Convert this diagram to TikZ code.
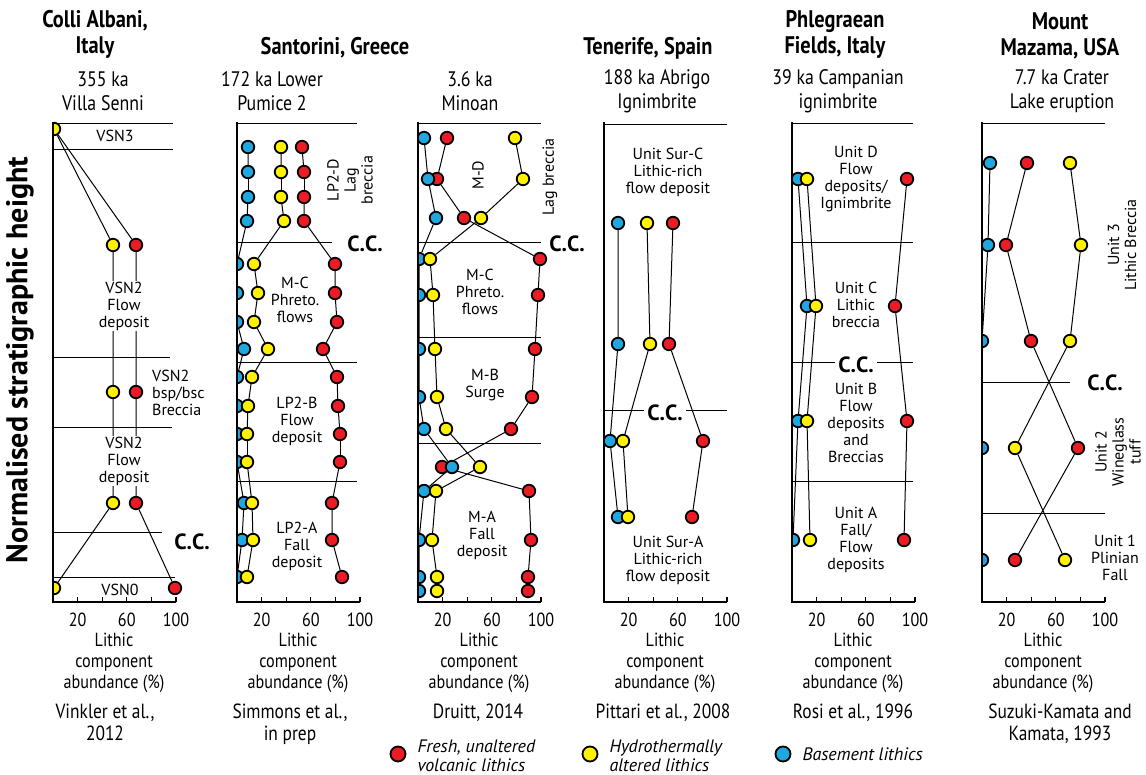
\documentclass[tikz,border=0pt]{standalone}
\usepackage{fontspec}
\setmainfont{PT Sans}
\newfontfamily\condfont[FakeStretch=0.85]{PT Sans}
\usetikzlibrary{backgrounds}
\definecolor{freshred}{HTML}{ED1C24}
\definecolor{altyellow}{HTML}{FFF200}
\definecolor{basemblue}{HTML}{1FA8E0}

\begin{document}
\begin{tikzpicture}[x=1pt, y=-1pt,
    smp/.style={circle, draw, line width=1.8pt, minimum size=12.5pt, inner sep=0pt},
    frsh/.style={smp, fill=freshred},
    hydro/.style={smp, fill=altyellow},
    bsmt/.style={smp, fill=basemblue},
    unit/.style={font=\fontsize{16}{17}\selectfont, align=center, inner sep=1pt},
    cc/.style={font=\bfseries\fontsize{22}{24}\selectfont, inner sep=1pt},
    ttl/.style={font=\condfont\bfseries\fontsize{24}{26}\selectfont, align=center},
    sub/.style={font=\condfont\fontsize{21}{24}\selectfont, align=center},
    axlab/.style={font=\condfont\fontsize{19}{21}\selectfont, align=center},
    src/.style={font=\condfont\fontsize{20.5}{22}\selectfont, align=center, anchor=north},
    legtxt/.style={font=\itshape\fontsize{18}{19}\selectfont, align=left, anchor=west},
    bed/.style={line width=0.9pt},
    trend/.style={line width=1pt},
    axln/.style={line width=2.6pt}]

    \useasboundingbox (0,0) rectangle (1146,775);

    % ===== vertical label =====
    \node[font=\bfseries\fontsize{30}{32}\selectfont, rotate=90] (ylab) at (20,360) {Normalised stratigraphic height};

    % ===== Colli Albani =====
    \node[ttl] (t1) at (95,34) {Colli Albani,\\Italy};
    \node[sub] (s1) at (103,91) {355 ka\\Villa Senni};
    \foreach \y/\e in {123/173,149/173,357/170,427/172,532/162,577/175}
        \draw[bed] (53,\y) -- (\e,\y);
    \begin{scope}
        \clip (53,110) rectangle (200,610);
        \node[hydro] (ca) at (54,129) {};
        \node[hydro] (cyb) at (113,245) {};
        \node[frsh]  (crb) at (136,245) {};
        \node[hydro] (cyc) at (113,392) {};
        \node[frsh]  (crc) at (136,392) {};
        \node[hydro] (cyd) at (113,503) {};
        \node[frsh]  (crd) at (136,503) {};
        \node[hydro] (cye) at (54,588) {};
        \node[frsh]  (cre) at (175,588) {};
    \end{scope}
    \begin{scope}[on background layer]
        \draw[trend] (ca) -- (cyb) -- (cyc) -- (cyd) -- (cye);
        \draw[trend] (ca) -- (crb) -- (crc) -- (crd) -- (cre);
    \end{scope}
    \node[unit] (u13) at (115,136) {VSN3};
    \node[unit, fill=white] (u12a) at (124,306) {VSN2\\Flow\\deposit};
    \node[unit, align=left, anchor=west] (u12b) at (151,393) {VSN2\\bsp/bsc\\Breccia};
    \node[unit, fill=white] (u12c) at (124,461) {VSN2\\Flow\\deposit};
    \node[cc] (cc1) at (192,542) {C.C.};
    \node[unit] (u10) at (120,590) {VSN0};

    % ===== Santorini, Lower Pumice 2 =====
    \node[ttl] (t2) at (335,48) {Santorini, Greece};
    \node[sub] (s2) at (272,91) {172 ka Lower\\Pumice 2};
    \foreach \y/\e in {123/357,242/332,362/357,481/357}
        \draw[bed] (237,\y) -- (\e,\y);
    \begin{scope}
        \clip (237,110) rectangle (400,610);
        \foreach \y/\b/\h/\f [count=\i] in {147/248/281/302, 172/248/281/304,
            197/248/281/304, 221/247/284/304, 264/237/254/335, 293/237/258/335,
            322/237/254/337, 349/244/268/323, 377/237/252/337, 406/237/248/338,
            434/237/247/340, 462/237/247/340, 503/244/252/332, 540/242/253/332,
            577/237/247/342}{
            \node[bsmt]  (lb\i) at (\b,\y) {};
            \node[frsh]  (lr\i) at (\f,\y) {};
            \node[hydro] (ly\i) at (\h,\y) {};
        }
    \end{scope}
    \begin{scope}[on background layer]
        \foreach \i [remember=\i as \j (initially 1)] in {2,...,15}
            \draw[trend] (lb\j) -- (lb\i) (ly\j) -- (ly\i) (lr\j) -- (lr\i);
    \end{scope}
    \node[unit, rotate=90] (u24) at (350,180) {LP2-D\\Lag\\breccia};
    \node[cc] (cc2) at (365,244) {C.C.};
    \node[unit] (u23) at (295,300) {M-C\\Phreto.\\flows};
    \node[unit] (u22) at (297,421) {LP2-B\\Flow\\deposit};
    \node[unit] (u21) at (297,546) {LP2-A\\Fall\\deposit};

    % ===== Santorini, Minoan =====
    \node[sub] (s3) at (470,91) {3.6 ka\\Minoan};
    \foreach \y in {123,242,337,443}
        \draw[bed] (418,\y) -- (541,\y);
    \begin{scope}
        \clip (418,110) rectangle (600,610);
        \foreach \y/\b/\h/\f [count=\i] in {138/424/515/447, 179/428/523/437,
            218/436/481/464, 259/419/430/540, 295/419/433/538, 349/419/435/535,
            397/419/437/532, 429/424/446/511, 467/452/480/442, 491/424/436/529,
            540/419/432/531, 577/419/437/528, 591/419/437/528}{
            \node[frsh]  (mr\i) at (\f,\y) {};
            \node[bsmt]  (mb\i) at (\b,\y) {};
            \node[hydro] (my\i) at (\h,\y) {};
        }
    \end{scope}
    \begin{scope}[on background layer]
        \foreach \i [remember=\i as \j (initially 1)] in {2,...,13}
            \draw[trend] (mb\j) -- (mb\i) (my\j) -- (my\i) (mr\j) -- (mr\i);
    \end{scope}
    \node[unit, rotate=90] (u34) at (478,175) {M-D};
    \node[unit, rotate=90] (u34b) at (550,177) {Lag breccia};
    \node[cc] (cc3) at (567,244) {C.C.};
    \node[unit] (u33) at (480,292) {M-C\\Phreto.\\flows};
    \node[unit] (u32) at (485,385) {M-B\\Surge};
    \node[unit] (u31) at (482,535) {M-A\\Fall\\deposit};

    % ===== Tenerife =====
    \node[ttl] (t4) at (648,48) {Tenerife, Spain};
    \node[sub] (s4) at (657,91) {188 ka Abrigo\\Ignimbrite};
    \foreach \y in {124,410}
        \draw[bed] (604,\y) -- (727,\y);
    \begin{scope}
        \clip (604,110) rectangle (780,610);
        \foreach \y/\b/\h/\f [count=\i] in {223/618/647/673, 344/618/650/669,
            441/610/623/703, 517/618/628/692}{
            \node[bsmt]  (tb\i) at (\b,\y) {};
            \node[hydro] (ty\i) at (\h,\y) {};
            \node[frsh]  (tr\i) at (\f,\y) {};
        }
    \end{scope}
    \begin{scope}[on background layer]
        \foreach \i [remember=\i as \j (initially 1)] in {2,...,4}
            \draw[trend] (tb\j) -- (tb\i) (ty\j) -- (ty\i) (tr\j) -- (tr\i);
    \end{scope}
    \node[unit] (u43) at (668,172) {Unit Sur-C\\Lithic-rich\\flow deposit};
    \node[cc, fill=white, inner sep=3pt] (cc4) at (665,413) {C.C.};
    \node[unit] (u41) at (668,560) {Unit Sur-A\\Lithic-rich\\flow deposit};

    % ===== Phlegraean Fields =====
    \node[ttl] (t5) at (835,34) {Phlegraean\\Fields, Italy};
    \node[sub] (s5) at (838,91) {39 ka Campanian\\ignimbrite};
    \foreach \y in {123,242,362,481}
        \draw[bed] (792,\y) -- (913,\y);
    \begin{scope}
        \clip (792,110) rectangle (960,610);
        \foreach \y/\b/\h/\f [count=\i] in {179/798/807/907, 306/807/816/895,
            421/798/807/907, 540/793/810/904}{
            \node[bsmt]  (pb\i) at (\b,\y) {};
            \node[hydro] (py\i) at (\h,\y) {};
            \node[frsh]  (pr\i) at (\f,\y) {};
        }
    \end{scope}
    \begin{scope}[on background layer]
        \foreach \i [remember=\i as \j (initially 1)] in {2,...,4}
            \draw[trend] (pb\j) -- (pb\i) (py\j) -- (py\i) (pr\j) -- (pr\i);
    \end{scope}
    \node[unit] (u54) at (856,179) {Unit D\\Flow\\deposits/\\Ignimbrite};
    \node[unit] (u53) at (856,305) {Unit C\\Lithic\\breccia};
    \node[cc, fill=white, inner sep=3pt] (cc5) at (856,365) {C.C.};
    \node[unit] (u52) at (856,423) {Unit B\\Flow\\deposits\\and\\Breccias};
    \node[unit] (u51) at (856,540) {Unit A\\Fall/\\Flow\\deposits};

    % ===== Mount Mazama =====
    \node[ttl] (t6) at (1060,36) {Mount\\Mazama, USA};
    \node[sub] (s6) at (1062,91) {7.7 ka Crater\\Lake eruption};
    \draw[bed] (982,123) -- (1105,123);
    \draw[bed] (982,382) -- (1070,382);
    \draw[bed] (982,513) -- (1105,513);
    \begin{scope}
        \clip (982,110) rectangle (1146,610);
        \foreach \y/\b/\h/\f [count=\i] in {163/990/1070/1027, 245/988/1081/1006,
            341/982/1070/1031, 448/982/1015/1078, 560/982/1065/1015}{
            \node[bsmt]  (zb\i) at (\b,\y) {};
            \node[hydro] (zy\i) at (\h,\y) {};
            \node[frsh]  (zr\i) at (\f,\y) {};
        }
    \end{scope}
    \begin{scope}[on background layer]
        \foreach \i [remember=\i as \j (initially 1)] in {2,...,5}
            \draw[trend] (zb\j) -- (zb\i) (zy\j) -- (zy\i) (zr\j) -- (zr\i);
    \end{scope}
    \node[unit, rotate=90] (u63) at (1122,245) {Unit 3\\Lithic Breccia};
    \node[cc] (cc6) at (1105,383) {C.C.};
    \node[unit, rotate=90] (u62) at (1118,452) {Unit 2\\Wineglass\\tuff};
    \node[unit] (u61) at (1115,558) {Unit 1\\Plinian\\Fall};

    % ===== axes =====
    \foreach \a [count=\i] in {53,237,418,604,792,982}{
        \draw[axln] (\a,122) -- (\a,602) -- (\a+123,602);
        \foreach \k in {1,...,5}
            \draw[line width=1.2pt] (\a+24.6*\k,602) -- ++(0,-5);
        \node[axlab] (xa\i) at (\a+24.6,620) {20};
        \node[axlab] (xb\i) at (\a+73.8,620) {60};
        \node[axlab] (xc\i) at (\a+123,620) {100};
        \node[axlab] (xl\i) at (\a+61,663) {Lithic\\component\\abundance (\%)};
    }

    % ===== sources =====
    \node[src] (r1) at (105,700) {Vinkler et al.,\\2012};
    \node[src] (r2) at (290,700) {Simmons et al.,\\in prep};
    \node[src] (r3) at (478,700) {Druitt, 2014};
    \node[src] (r4) at (663,700) {Pittari et al., 2008};
    \node[src] (r5) at (853,700) {Rosi et al., 1996};
    \node[src] (r6) at (1060,700) {Suzuki-Kamata and\\Kamata, 1993};

    % ===== legend =====
    \node[frsh, minimum size=15pt] (lg1) at (398,754) {};
    \node[legtxt] (lt1) at (414,756) {Fresh, unaltered\\volcanic lithics};
    \node[hydro, minimum size=15pt] (lg2) at (590,754) {};
    \node[legtxt] (lt2) at (606,756) {Hydrothermally\\altered lithics};
    \node[bsmt, minimum size=15pt] (lg3) at (783,754) {};
    \node[legtxt] (lt3) at (799,754) {Basement lithics};
\end{tikzpicture}
\end{document}
